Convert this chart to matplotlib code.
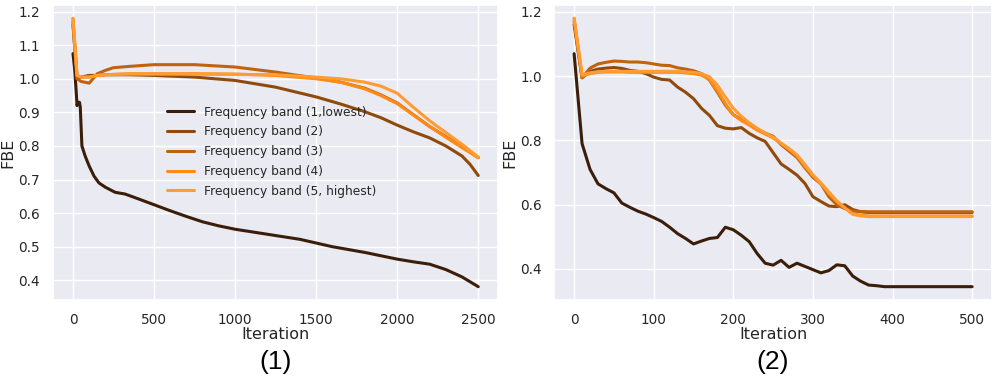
import matplotlib
matplotlib.use("Agg")
import matplotlib.pyplot as plt
import seaborn as sns

# colours of the five frequency bands (dark -> light)
colores = ["#3a1e0a", "#8f4a0c", "#c0620e", "#ff8a14", "#ff9c33"]
etiquetas = ["Frequency band (1,lowest)", "Frequency band (2)", "Frequency band (3)",
             "Frequency band (4)", "Frequency band (5, highest)"]

# ---- panel (1): 2500 iterations ----
x1_banda1 = [0, 10, 20, 25, 30, 40, 45, 55, 75, 100, 130, 160, 200, 260, 320, 400, 500, 600,
             700, 800, 900, 1000, 1200, 1400, 1600, 1800, 2000, 2100, 2200, 2300, 2400, 2500]
y1_banda1 = [1.075, 1.03, 0.96, 0.92, 0.93, 0.93, 0.915, 0.80, 0.77, 0.74, 0.71, 0.69, 0.677,
             0.662, 0.657, 0.643, 0.625, 0.607, 0.59, 0.574, 0.562, 0.552, 0.537, 0.522, 0.50,
             0.483, 0.463, 0.455, 0.448, 0.432, 0.41, 0.381]

x1 = [0, 25, 50, 100, 150, 200, 250, 350, 500, 750, 1000, 1250, 1500, 1650, 1800, 1900, 2000,
      2100, 2200, 2300, 2400, 2450, 2500]
y1_banda2 = [1.16, 1.0, 1.005, 1.01, 1.01, 1.012, 1.012, 1.012, 1.01, 1.005, 0.995, 0.975, 0.946,
             0.925, 0.902, 0.884, 0.862, 0.842, 0.824, 0.80, 0.77, 0.745, 0.712]
y1_banda3 = [1.17, 1.0, 0.992, 0.987, 1.015, 1.025, 1.033, 1.037, 1.042, 1.042, 1.035, 1.02,
             1.002, 0.99, 0.972, 0.952, 0.928, 0.893, 0.858, 0.828, 0.797, 0.782, 0.765]
y1_banda4 = [1.18, 1.01, 1.005, 1.005, 1.01, 1.012, 1.013, 1.015, 1.015, 1.015, 1.014, 1.01,
             1.0, 0.99, 0.97, 0.95, 0.926, 0.892, 0.858, 0.826, 0.795, 0.78, 0.765]
y1_banda5 = [1.18, 1.01, 1.005, 1.005, 1.01, 1.012, 1.013, 1.014, 1.014, 1.014, 1.013, 1.012,
             1.005, 1.0, 0.99, 0.978, 0.957, 0.915, 0.875, 0.84, 0.805, 0.786, 0.767]

# ---- panel (2): 500 iterations, every 10 ----
x2 = list(range(0, 510, 10))
y2_banda1 = [1.07, 0.79, 0.71, 0.665, 0.65, 0.637, 0.605, 0.592, 0.58, 0.571, 0.56, 0.548, 0.53,
             0.51, 0.495, 0.478, 0.487, 0.495, 0.498, 0.53, 0.522, 0.505, 0.485, 0.448, 0.418,
             0.412, 0.427, 0.405, 0.418, 0.408, 0.398, 0.388, 0.395, 0.413, 0.41, 0.378, 0.362,
             0.35, 0.348, 0.345] + [0.345] * 11
y2_banda2 = [1.16, 0.995, 1.015, 1.022, 1.025, 1.027, 1.024, 1.018, 1.015, 1.008, 0.997, 0.99,
             0.988, 0.966, 0.95, 0.93, 0.90, 0.878, 0.846, 0.838, 0.836, 0.84, 0.822, 0.808,
             0.797, 0.762, 0.727, 0.71, 0.692, 0.666, 0.625, 0.61, 0.596, 0.594, 0.60, 0.585,
             0.578, 0.576] + [0.576] * 13
y2_banda3 = [1.17, 0.995, 1.025, 1.038, 1.043, 1.047, 1.046, 1.044, 1.044, 1.042, 1.038, 1.034,
             1.033, 1.026, 1.022, 1.017, 1.008, 0.988, 0.95, 0.91, 0.88, 0.865, 0.851, 0.835,
             0.823, 0.813, 0.787, 0.767, 0.747, 0.715, 0.685, 0.665, 0.625, 0.60, 0.588, 0.58,
             0.579] + [0.578] * 14
y2_banda4 = [1.18, 1.0, 1.008, 1.012, 1.013, 1.013, 1.013, 1.012, 1.012, 1.012, 1.012, 1.012,
             1.012, 1.012, 1.01, 1.008, 1.003, 0.99, 0.955, 0.915, 0.88, 0.862, 0.848, 0.832,
             0.82, 0.808, 0.79, 0.772, 0.752, 0.72, 0.69, 0.665, 0.635, 0.61, 0.59, 0.572,
             0.567] + [0.565] * 14
y2_banda5 = [1.18, 1.005, 1.01, 1.014, 1.015, 1.015, 1.015, 1.015, 1.015, 1.015, 1.015, 1.015,
             1.015, 1.015, 1.013, 1.012, 1.008, 0.998, 0.972, 0.935, 0.90, 0.875, 0.855, 0.838,
             0.823, 0.81, 0.792, 0.775, 0.755, 0.725, 0.693, 0.668, 0.64, 0.612, 0.59, 0.57,
             0.565] + [0.563] * 14

sns.set_theme(style="darkgrid")
plt.rcParams['font.family'] = ['DejaVu Sans']

fig = plt.figure(figsize=(9.95, 3.77), dpi=100)
ax1 = fig.add_axes([0.053, 0.204, 0.448, 0.783])
ax2 = fig.add_axes([0.557, 0.204, 0.440, 0.783])

# panel (1)
series1 = [(x1_banda1, y1_banda1), (x1, y1_banda2), (x1, y1_banda3), (x1, y1_banda4), (x1, y1_banda5)]
for (xs, ys), c, lab in zip(series1, colores, etiquetas):
    ax1.plot(xs, ys, color=c, lw=2.2, label=lab)
ax1.set_xticks([0, 500, 1000, 1500, 2000, 2500])
ax1.set_yticks([0.4, 0.5, 0.6, 0.7, 0.8, 0.9, 1.0, 1.1, 1.2])
ax1.legend(loc="upper left", bbox_to_anchor=(0.245, 0.675), frameon=False, fontsize=8.8,
           handlelength=2.2, labelspacing=0.55, borderaxespad=0)

# panel (2)
series2 = [y2_banda1, y2_banda2, y2_banda3, y2_banda4, y2_banda5]
for ys, c in zip(series2, colores):
    ax2.plot(x2, ys, color=c, lw=2.2)
ax2.set_xticks([0, 100, 200, 300, 400, 500])
ax2.set_yticks([0.4, 0.6, 0.8, 1.0, 1.2])

for ax, tag in [(ax1, "(1)"), (ax2, "(2)")]:
    ax.set_xlabel("Iteration", fontsize=11.5, labelpad=0)
    ax.set_ylabel("FBE", fontsize=11.5, labelpad=2)
    ax.tick_params(labelsize=9.8, pad=3)
    ax.text(0.5, -0.17, tag, transform=ax.transAxes, ha="center", va="top",
            fontsize=19, family="Liberation Sans", color="black")

fig.savefig("out.png", dpi=100)
